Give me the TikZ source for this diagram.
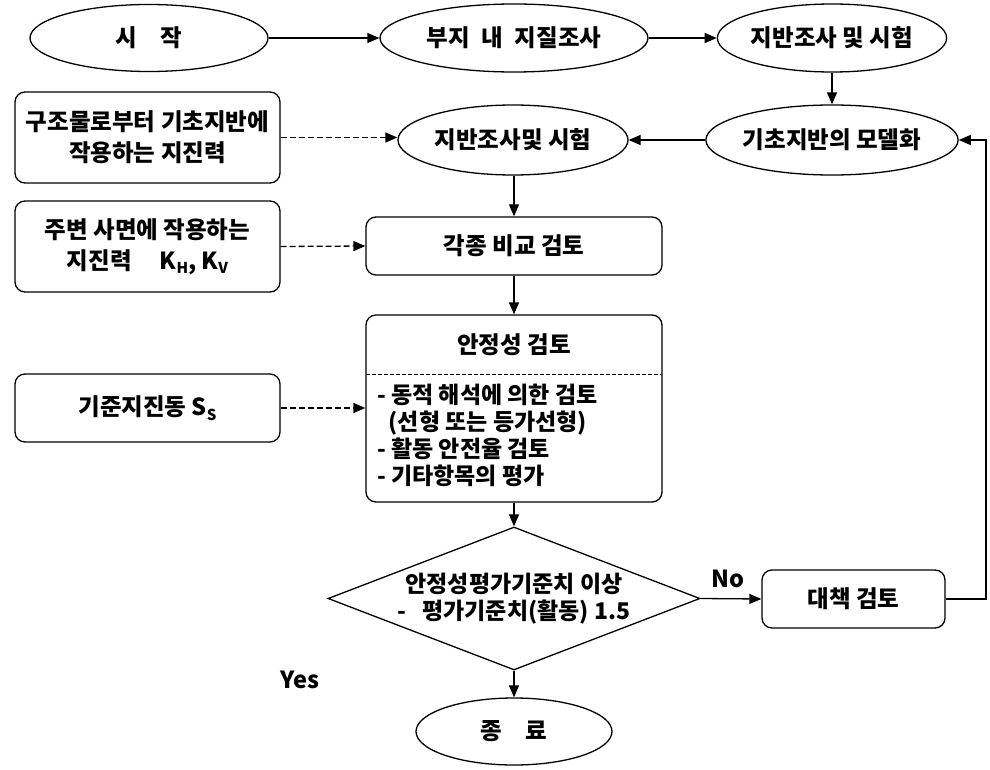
\documentclass[tikz,border=0pt]{standalone}
\usepackage{fontspec}
\setmainfont{Noto Sans CJK KR}
\usetikzlibrary{arrows.meta,shapes.geometric,calc}
\newcommand{\sbs}[1]{\raisebox{-0.35ex}{\fontsize{15}{15}\selectfont #1}}
\tikzset{
  every node/.style={font=\fontsize{23.5}{27}\selectfont\bfseries, inner sep=0pt},
  ell/.style={draw, ellipse, line width=1.3pt},
  rbox/.style={draw, rounded corners=10pt, line width=1.3pt, align=center},
  conn/.style={line width=1.3pt, -{Triangle[length=12pt,width=10pt]}},
  dconn/.style={line width=1.3pt, dash pattern=on 6pt off 3pt, -{Triangle[length=12pt,width=10pt]}},
}
\begin{document}
\begin{tikzpicture}[x=1pt,y=-1pt]
\useasboundingbox (0,0) rectangle (990,770);
\node[ell, minimum width=238pt, minimum height=67pt] (start) at (149,38) {시\hspace{1em}작};
\node[ell, minimum width=268pt, minimum height=68pt] (site) at (514,38) {부지\hspace{0.5em}내\hspace{0.5em}지질조사};
\node[ell, minimum width=221pt, minimum height=68pt] (survey1) at (832,38) {지반조사 및 시험};
\node[ell, minimum width=230pt, minimum height=70pt] (survey2) at (513,140) {지반조사및 시험};
\node[ell, minimum width=235pt, minimum height=70pt] (model) at (832,140) {기초지반의 모델화};
\node[rbox, minimum width=265pt, minimum height=91pt, font=\fontsize{23.5}{31}\selectfont\bfseries] (in1) at (147.5,137.5) {구조물로부터 기초지반에\\작용하는 지진력};
\node[rbox, minimum width=265pt, minimum height=91pt, font=\fontsize{23.5}{31}\selectfont\bfseries] (in2) at (147.5,246.5) {주변 사면에 작용하는\\지진력\hspace{1.2em}K\sbs{H}, K\sbs{V}};
\node[rbox, minimum width=296pt, minimum height=58pt] (compare) at (514,246) {각종 비교 검토};
\node[rbox, minimum width=296pt, minimum height=187pt] (stab) at (514,408.5) {};
\node (stabtitle) at (514,345) {안정성 검토};
\draw[line width=1pt, dash pattern=on 4pt off 2pt] (366,374) -- (662,374);
\node[anchor=north west, align=left, font=\fontsize{23}{27}\selectfont\bfseries] (stabbody) at (377,384) {- 동적 해석에 의한 검토\\\hspace{0.5em}(선형 또는 등가선형)\\- 활동 안전율 검토\\- 기타항목의 평가};
\node[rbox, minimum width=265pt, minimum height=68pt] (in3) at (147.5,408) {기준지진동 S\sbs{S}};
\node[draw, diamond, line width=1.3pt, minimum width=372pt, minimum height=143pt] (dec) at (514,598.5) {};
\node[align=center, font=\fontsize{23}{27}\selectfont\bfseries] (dectext) at (514,598.5) {안정성평가기준치 이상\\-\hspace{0.7em}평가기준치(활동) 1.5};
\node[rbox, minimum width=183pt, minimum height=58pt] (measure) at (853.5,599) {대책 검토};
\node[ell, minimum width=196pt, minimum height=67pt] (end) at (514,731.5) {종\hspace{1em}료};
\coordinate (loop) at (986,599);
\draw[conn] (start) -- (site);
\draw[conn] (site) -- (survey1);
\draw[conn] (survey1) -- (model);
\draw[conn] (model) -- (survey2);
\draw[conn] (compare.north |- survey2.south) -- (compare.north);
\draw[conn] (compare) -- (stab);
\draw[conn] (stab) -- (dec);
\draw[conn] (dec.east) -- node[above=10pt, pos=0.45] (nolab) {No} (measure.west);
\draw[conn] (dec.south) -- (end.north);
\node (yeslab) at (300,680) {Yes};
\draw[conn] (measure.east) -- (loop) |- (model.east);
\draw[dconn] (in1.east) -- (in1.east -| survey2.west);
\draw[dconn] (in2.east) -- (compare.west);
\draw[dconn] (in3.east) -- (in3.east -| stab.west);
\end{tikzpicture}
\end{document}
